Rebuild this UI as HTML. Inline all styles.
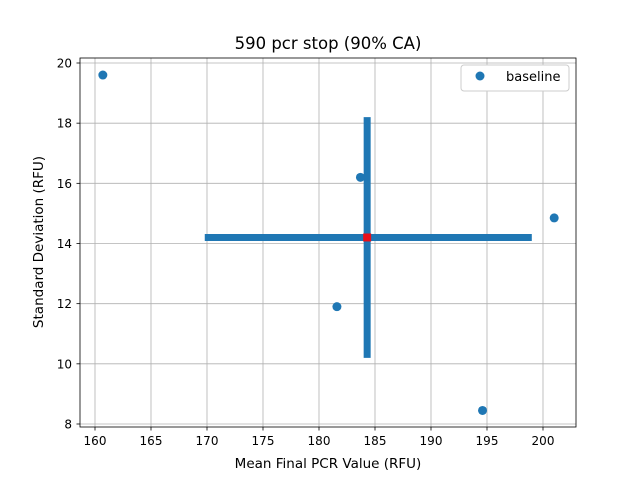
<!DOCTYPE html>
<html><head><meta charset="utf-8">
<style>body{margin:0;background:#fff}svg text{font-family:"DejaVu Sans","Liberation Sans",sans-serif;fill:#000}</style>
</head><body>
<svg id="chart" width="640" height="480" xmlns="http://www.w3.org/2000/svg">
<rect width="640" height="480" fill="#fff"/>
<g id="grid"></g>
<g id="marks"></g>
<rect x="80" y="58" width="496" height="369" fill="none" stroke="#000" stroke-width="0.8"/>
<text x="328" y="49" font-size="16.5" text-anchor="middle">590 pcr stop (90% CA)</text>
<text x="328" y="468" font-size="13.5" text-anchor="middle">Mean Final PCR Value (RFU)</text>
<text transform="translate(43,242) rotate(-90)" font-size="13.5" text-anchor="middle">Standard Deviation (RFU)</text>
<g>
<rect x="461" y="65" width="108" height="26" rx="3" fill="#fff" stroke="#ccc"/>
<circle cx="480" cy="76" r="4.5" fill="#1f77b4"/>
<text x="506" y="81" font-size="13">baseline</text>
</g>
</svg>
<script>
const xTicks=[160,165,170,175,180,185,190,195,200];
const yTicks=[8,10,12,14,16,18,20];
const xVals=[160.7,183.7,181.6,201.0,194.6];
const yVals=[19.6,16.2,11.9,14.85,8.45];
const meanX=[184.3];
const meanY=[14.2];
const xRange=[169.8,199.0];
const yRange=[10.2,18.2];
const X=v=>95+(v-160)*11.2;
const Y=v=>63+(20-v)*30.083;
const NS="http://www.w3.org/2000/svg";
function mk(t,a,p){const e=document.createElementNS(NS,t);for(const k in a)e.setAttribute(k,a[k]);p.appendChild(e);return e;}
const g=document.getElementById('grid');
xTicks.forEach(t=>{
 const l=mk('line',{x1:X(t),x2:X(t),y1:58,y2:427,stroke:'#b0b0b0','stroke-width':0.8},g);
 
 
 mk('line',{x1:X(t),x2:X(t),y1:427,y2:430.5,stroke:'#000','stroke-width':0.8},g);
 const tx=mk('text',{x:X(t),y:445,'font-size':12,'text-anchor':'middle'},g);tx.textContent=t;
 
 
});
yTicks.forEach(t=>{
 const l=mk('line',{x1:80,x2:576,y1:Y(t),y2:Y(t),stroke:'#b0b0b0','stroke-width':0.8},g);
 
 
 mk('line',{x1:76.5,x2:80,y1:Y(t),y2:Y(t),stroke:'#000','stroke-width':0.8},g);
 const tx=mk('text',{x:72,y:Y(t)+4.5,'font-size':12,'text-anchor':'end'},g);tx.textContent=t;
 
 
});
const m=document.getElementById('marks');
const h=mk('line',{x1:X(xRange[0]),x2:X(xRange[1]),y1:Y(meanY[0]),y2:Y(meanY[0]),stroke:'#1f77b4','stroke-width':7},m);


const v=mk('line',{x1:X(meanX[0]),x2:X(meanX[0]),y1:Y(yRange[0]),y2:Y(yRange[1]),stroke:'#1f77b4','stroke-width':7},m);


xVals.forEach((x,i)=>{
 const c=mk('circle',{cx:X(x),cy:Y(yVals[i]),r:4.5,fill:'#1f77b4'},m);
 
 
});
const r=mk('rect',{x:X(meanX[0])-4,y:Y(meanY[0])-4,width:8,height:8,fill:'#e8101a'},m);


</script>
</body></html>
